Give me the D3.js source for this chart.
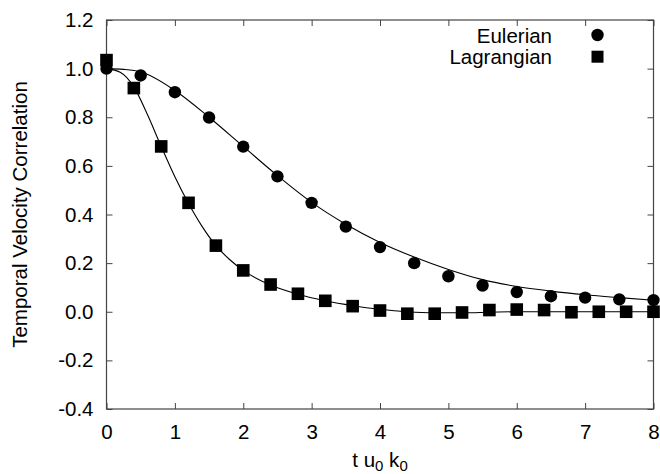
<!DOCTYPE html>
<html>
<head>
<meta charset="utf-8">
<script src="https://cdn.jsdelivr.net/npm/d3@7"></script>
<style>
body { margin: 0; background: #fff; }
svg { display: block; font-family: "Liberation Sans", Arial, sans-serif; }
.axis text { font-size: 20.5px; fill: #000; }
.axis line { stroke: #444; }
.fit { fill: none; stroke: #000; stroke-width: 1.1; }
</style>
</head>
<body>
<script>
const WIDTH = 660;
const HEIGHT = 474;
const MARGIN = {left: 106.5, right: 6.5, top: 20, bottom: 65};
const INNER_WIDTH = WIDTH - MARGIN.left - MARGIN.right;
const INNER_HEIGHT = HEIGHT - MARGIN.top - MARGIN.bottom;

// simulation points
var eulerT = [0, 0.5, 1, 1.5, 2, 2.5, 3, 3.5, 4, 4.5, 5, 5.5, 6, 6.5, 7, 7.5, 8];
var eulerR = [1.0, 0.972, 0.903, 0.799, 0.679, 0.557, 0.448, 0.35, 0.266, 0.2, 0.146, 0.108, 0.081, 0.064, 0.058, 0.051, 0.048];
var lagT = [0, 0.4, 0.8, 1.2, 1.6, 2.0, 2.4, 2.8, 3.2, 3.6, 4.0, 4.4, 4.8, 5.2, 5.6, 6.0, 6.4, 6.8, 7.2, 7.6, 8.0];
var lagR = [1.035, 0.92, 0.68, 0.448, 0.272, 0.17, 0.112, 0.074, 0.045, 0.023, 0.005, -0.008, -0.008, -0.003, 0.007, 0.009, 0.007, -0.002, 0.0, 0.0, 0.0];

// model curves
var eulerFitT = [0, 0.25, 0.5, 1, 1.5, 2, 2.5, 3, 3.5, 4, 4.5, 5, 5.5, 6, 6.5, 7, 7.5, 8];
var eulerFitR = [1.0, 0.997, 0.987, 0.91, 0.80, 0.68, 0.56, 0.45, 0.36, 0.285, 0.225, 0.174, 0.132, 0.104, 0.085, 0.07, 0.058, 0.047];
var lagFitT = [0, 0.2, 0.4, 0.6, 0.8, 1.0, 1.2, 1.4, 1.6, 1.8, 2.0, 2.4, 2.8, 3.2, 3.6, 4.0, 4.4, 4.8, 5.2, 5.6, 6.0, 7.0, 8.0];
var lagFitR = [1.0, 0.985, 0.925, 0.81, 0.68, 0.555, 0.445, 0.35, 0.272, 0.215, 0.17, 0.11, 0.072, 0.045, 0.025, 0.01, 0.0, -0.004, -0.004, -0.002, 0.0, 0.0, 0.0];

var xTicks = [0, 1, 2, 3, 4, 5, 6, 7, 8];
var yTicks = [-0.4, -0.2, 0.0, 0.2, 0.4, 0.6, 0.8, 1.0, 1.2];
var legendNames = ['Eulerian', 'Lagrangian'];

var _xScale, _yScale;

var toPoints = function(xs, ys){
	return xs.map(function(x, i){ return {x: x, y: ys[i]}; });
}

var yFormat = function(d){
	return d3.format('.1f')(d).replace('\u2212', '-');
}

var createSvg = function(){
	var svg = d3.select('body')
		.append('svg')
		.attr('width', WIDTH)
		.attr('height', HEIGHT);

	_xScale = d3.scaleLinear().domain([0, 8]).range([0, INNER_WIDTH]);
	_yScale = d3.scaleLinear().domain([-0.4, 1.2]).range([INNER_HEIGHT, 0]);

	var g = svg.append('g')
		.attr('transform', 'translate(' + MARGIN.left + ',' + MARGIN.top + ')');

	// inward ticks on all four sides
	g.append('g').classed('axis', true)
		.attr('transform', 'translate(0,' + INNER_HEIGHT + ')')
		.call(d3.axisBottom(_xScale).tickValues(xTicks).tickFormat(d3.format('d'))
			.tickSizeInner(-6).tickSizeOuter(0).tickPadding(15));
	g.append('g').classed('axis', true)
		.call(d3.axisTop(_xScale).tickValues(xTicks).tickFormat('')
			.tickSizeInner(-6).tickSizeOuter(0));
	g.append('g').classed('axis', true)
		.call(d3.axisLeft(_yScale).tickValues(yTicks).tickFormat(yFormat)
			.tickSizeInner(-6).tickSizeOuter(0).tickPadding(13));
	g.append('g').classed('axis', true)
		.attr('transform', 'translate(' + INNER_WIDTH + ',0)')
		.call(d3.axisRight(_yScale).tickValues(yTicks).tickFormat('')
			.tickSizeInner(-6).tickSizeOuter(0));
	g.selectAll('.axis .domain').remove();
	g.selectAll('.axis text').attr('font-family', null).attr('font-size', null);

	g.append('rect')
		.attr('x', 0).attr('y', 0)
		.attr('width', INNER_WIDTH).attr('height', INNER_HEIGHT)
		.attr('fill', 'none').attr('stroke', '#444').attr('stroke-width', 1.2);

	// axis titles
	svg.append('text')
		.attr('transform', 'translate(27,' + (MARGIN.top + INNER_HEIGHT / 2) + ') rotate(-90)')
		.attr('text-anchor', 'middle')
		.style('font-size', '20.5px')
		.text('Temporal Velocity Correlation');

	var xl = svg.append('text')
		.attr('x', MARGIN.left + INNER_WIDTH / 2)
		.attr('y', 467)
		.attr('text-anchor', 'middle')
		.style('font-size', '20.5px');
	xl.append('tspan').text('t u');
	xl.append('tspan').attr('dy', 4).style('font-size', '15px').text('0');
	xl.append('tspan').attr('dy', -4).text(' k');
	xl.append('tspan').attr('dy', 4).style('font-size', '15px').text('0');

	return g;
}

var drawFits = function(g){
	var line = d3.line()
		.x(function(d){ return _xScale(d.x); })
		.y(function(d){ return _yScale(d.y); })
		.curve(d3.curveMonotoneX);
	g.append('path').classed('fit', true).attr('d', line(toPoints(eulerFitT, eulerFitR)));
	g.append('path').classed('fit', true).attr('d', line(toPoints(lagFitT, lagFitR)));
}

var drawPoints = function(g){
	g.append('g')
		.selectAll('rect')
		.data(toPoints(lagT, lagR))
		.enter()
		.append('rect')
		.attr('x', function(d){ return _xScale(d.x) - 6.3; })
		.attr('y', function(d){ return _yScale(d.y) - 6.3; })
		.attr('width', 12.6)
		.attr('height', 12.6)
		.attr('fill', '#000');

	g.append('g')
		.selectAll('circle')
		.data(toPoints(eulerT, eulerR))
		.enter()
		.append('circle')
		.attr('cx', function(d){ return _xScale(d.x); })
		.attr('cy', function(d){ return _yScale(d.y); })
		.attr('r', 6.2)
		.attr('fill', '#000');
}

var drawLegend = function(){
	var svg = d3.select('svg');
	var leg = svg.append('g').attr('transform', 'translate(552,35)');
	leg.selectAll('text')
		.data(legendNames)
		.enter()
		.append('text')
		.attr('x', 0)
		.attr('y', function(d, i){ return i * 21.7 + 7.5; })
		.attr('text-anchor', 'end')
		.style('font-size', '20.5px')
		.text(function(d){ return d; });
	leg.append('circle').attr('cx', 45.5).attr('cy', 0).attr('r', 6.2).attr('fill', '#000');
	leg.append('rect').attr('x', 45.5 - 6).attr('y', 21.7 - 6).attr('width', 12).attr('height', 12).attr('fill', '#000');
}

window.onload = function(){
	var g = createSvg();
	drawFits(g);
	drawPoints(g);
	drawLegend();
}
</script>
</body>
</html>
